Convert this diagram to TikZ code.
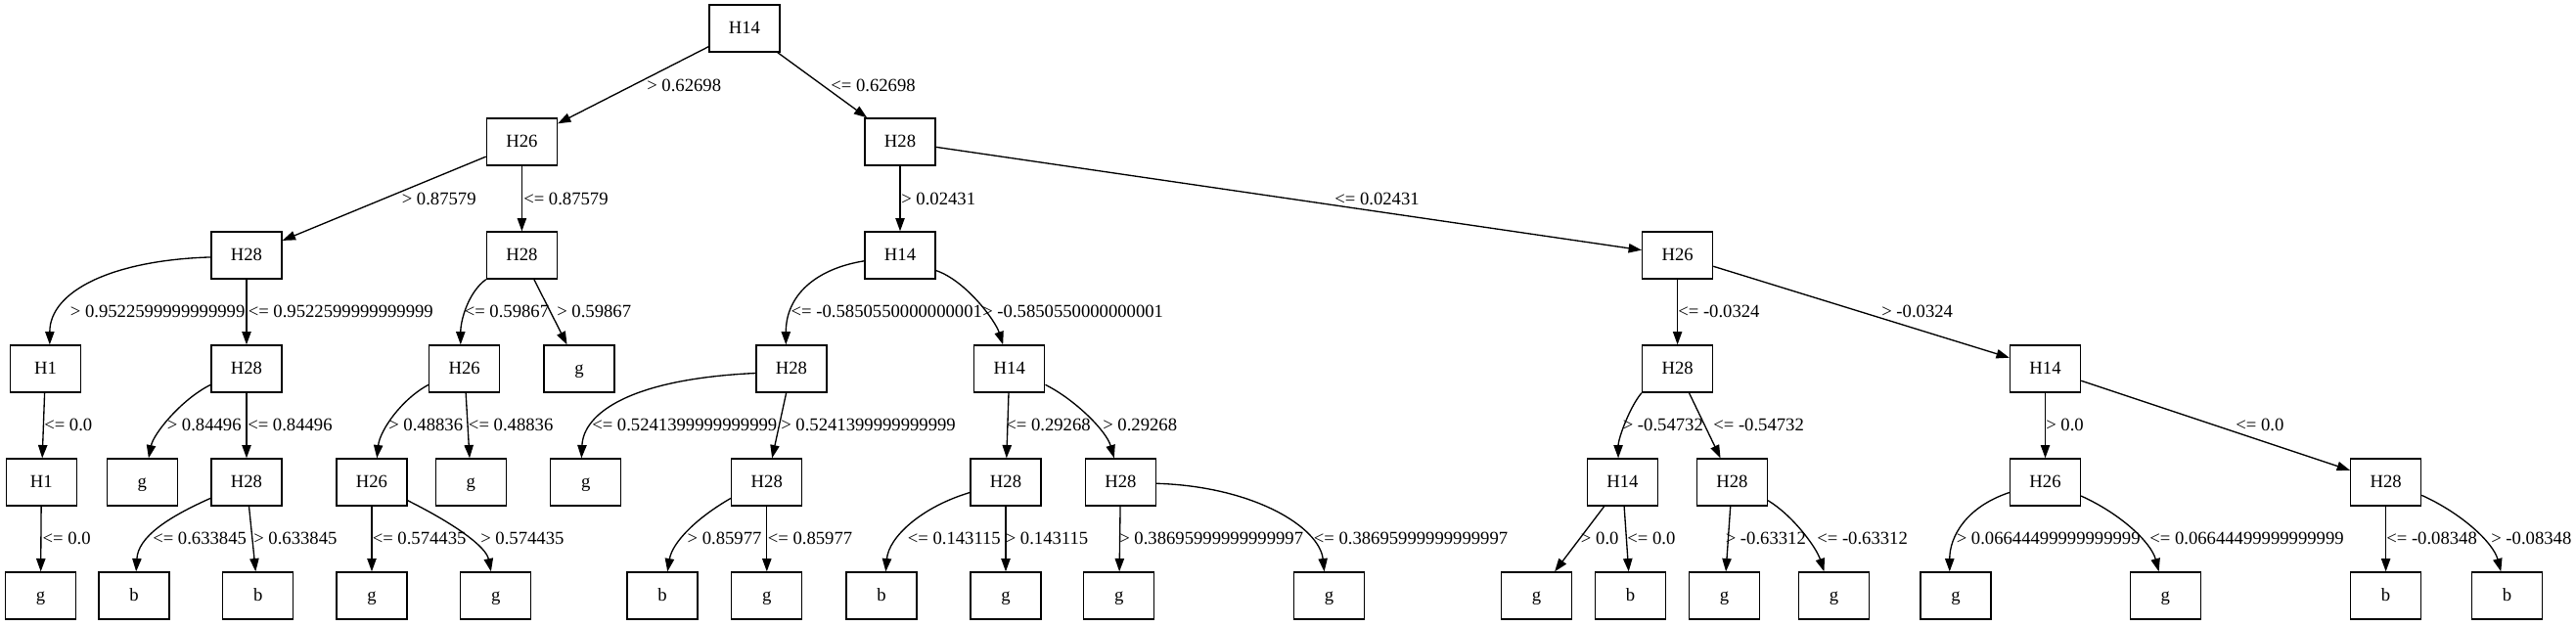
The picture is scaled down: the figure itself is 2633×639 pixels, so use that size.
\documentclass[tikz,border=0pt]{standalone}
\usepackage{fontspec}
\setmainfont{Liberation Serif}
\usetikzlibrary{arrows.meta}
\begin{document}
\begin{tikzpicture}[x=0.75pt,y=-0.75pt,
  tnode/.style={draw, line width=1pt, minimum width=54pt, minimum height=36pt, inner sep=0pt,
    text height=7.6pt, text depth=0pt, font=\fontsize{14}{16}\selectfont},
  edge/.style={line width=1pt, -{Triangle[length=10pt,width=7pt]}},
  lbl/.style={anchor=west, inner sep=0pt, font=\fontsize{14}{16}\selectfont}]
\useasboundingbox (0,0) rectangle (2633,639);
% level 0
\node[tnode] (n0) at (761,29) {H14};
% level 1
\node[tnode] (n1) at (533.4,145) {H26};
\node[tnode] (n2) at (920,145) {H28};
% level 2
\node[tnode] (n3) at (252,261) {H28};
\node[tnode] (n4) at (533.4,261) {H28};
\node[tnode] (n5) at (920,261) {H14};
\node[tnode] (n6) at (1714.6,261) {H26};
% level 3
\node[tnode] (n7) at (46.5,377) {H1};
\node[tnode] (n8) at (252,377) {H28};
\node[tnode] (n9) at (474.7,377) {H26};
\node[tnode] (n10) at (592,377) {g};
\node[tnode] (n11) at (809,377) {H28};
\node[tnode] (n12) at (1031.8,377) {H14};
\node[tnode] (n13) at (1714.6,377) {H28};
\node[tnode] (n14) at (2090.5,377) {H14};
% level 4
\node[tnode] (n15) at (42.3,493) {H1};
\node[tnode] (n16) at (145.3,493) {g};
\node[tnode] (n17) at (252,493) {H28};
\node[tnode] (n18) at (380,493) {H26};
\node[tnode] (n19) at (481.4,493) {g};
\node[tnode] (n20) at (598.7,493) {g};
\node[tnode] (n21) at (783.8,493) {H28};
\node[tnode] (n22) at (1028,493) {H28};
\node[tnode] (n23) at (1145.4,493) {H28};
\node[tnode] (n24) at (1658.4,493) {H14};
\node[tnode] (n25) at (1770.4,493) {H28};
\node[tnode] (n26) at (2090.5,493) {H26};
\node[tnode] (n27) at (2438.6,493) {H28};
% level 5
\node[tnode] (n28) at (41.5,609) {g};
\node[tnode] (n29) at (137,609) {b};
\node[tnode] (n30) at (263.8,609) {b};
\node[tnode] (n31) at (380,609) {g};
\node[tnode] (n32) at (506.7,609) {g};
\node[tnode] (n33) at (677,609) {b};
\node[tnode] (n34) at (783.8,609) {g};
\node[tnode] (n35) at (901,609) {b};
\node[tnode] (n36) at (1028,609) {g};
\node[tnode] (n37) at (1143.8,609) {g};
\node[tnode] (n38) at (1358.4,609) {g};
\node[tnode] (n39) at (1570.4,609) {g};
\node[tnode] (n40) at (1666.4,609) {b};
\node[tnode] (n41) at (1762.4,609) {g};
\node[tnode] (n42) at (1874.4,609) {g};
\node[tnode] (n43) at (1998.9,609) {g};
\node[tnode] (n44) at (2213.2,609) {g};
\node[tnode] (n45) at (2438.6,609) {b};
\node[tnode] (n46) at (2562.4,609) {b};

% straight edges
\draw[edge] (n0) -- (n1);
\draw[edge] (n0) -- (n2);
\draw[edge] (n1) -- (n3);
\draw[edge] (n1) -- (n4);
\draw[edge] (n2) -- (n5);
\draw[edge] (n2) -- (n6);
\draw[edge] (n3) -- (n8);
\draw[edge] (n4) -- (n10);
\draw[edge] (n6) -- (n13);
\draw[edge] (n6) -- (n14);
\draw[edge] (n7) -- (n15);
\draw[edge] (n8) -- (n17);
\draw[edge] (n9) -- (n19);
\draw[edge] (n11) -- (n21);
\draw[edge] (n12) -- (n22);
\draw[edge] (n13) -- (n25);
\draw[edge] (n14) -- (n26);
\draw[edge] (n14) -- (n27);
\draw[edge] (n15) -- (n28);
\draw[edge] (n17) -- (n30);
\draw[edge] (n18) -- (n31);
\draw[edge] (n21) -- (n34);
\draw[edge] (n22) -- (n36);
\draw[edge] (n23) -- (n37);
\draw[edge] (n24) -- (n39);
\draw[edge] (n24) -- (n40);
\draw[edge] (n25) -- (n41);
\draw[edge] (n27) -- (n45);

% curved edges
\draw[edge] (n3.183) .. controls +(-100,3) and +(0,-55) .. (n7.80);
\draw[edge] (n4.south west) .. controls +(-18,13) and +(0,-25) .. (n9.99);
\draw[edge] (n5.189) .. controls +(-50,8) and +(0,-50) .. (n11.103);
\draw[edge] (n5.-23) .. controls +(30,10) and +(-8,-25) .. (n12.105);
\draw[edge] (n8.204) .. controls +(-30,15) and +(5,-25) .. (n16.75);
\draw[edge] (n9.204) .. controls +(-28,15) and +(3,-28) .. (n18.78);
\draw[edge] (n11.187) .. controls +(-130,6) and +(2,-45) .. (n20.100);
\draw[edge] (n12.-24) .. controls +(30,15) and +(-8,-28) .. (n23.105);
\draw[edge] (n13.south west) .. controls +(-12,14) and +(0,-20) .. (n24.100);
\draw[edge] (n18.-27) .. controls +(50,25) and +(-5,-25) .. (n32.101);
\draw[edge] (n17.204) .. controls +(-45,20) and +(2,-35) .. (n29.85);
\draw[edge] (n21.204) .. controls +(-35,20) and +(5,-30) .. (n33.78);
\draw[edge] (n22.196) .. controls +(-50,15) and +(3,-35) .. (n35.80);
\draw[edge] (n23.-2) .. controls +(100,3) and +(-5,-45) .. (n38.101);
\draw[edge] (n25.-27) .. controls +(25,15) and +(-8,-25) .. (n42.112);
\draw[edge] (n26.196) .. controls +(-45,15) and +(0,-35) .. (n43.104);
\draw[edge] (n26.-21) .. controls +(40,18) and +(-8,-30) .. (n44.105);
\draw[edge] (n27.-20) .. controls +(40,18) and +(-8,-30) .. (n46.104);

% labels
\node[lbl] (l01) at (661,87) {> 0.62698};
\node[lbl] (l02) at (849,87) {<= 0.62698};
\node[lbl] (l13) at (410.5,203) {> 0.87579};
\node[lbl] (l14) at (535,203) {<= 0.87579};
\node[lbl] (l25) at (921,203) {> 0.02431};
\node[lbl] (l26) at (1364,203) {<= 0.02431};
\node[lbl] (l37) at (71.6,318) {> 0.9522599999999999};
\node[lbl] (l38) at (253.5,318) {<= 0.9522599999999999};
\node[lbl] (l49) at (474.5,318) {<= 0.59867};
\node[lbl] (l410) at (569,318) {> 0.59867};
\node[lbl] (l511) at (808.4,318) {<= -0.5850550000000001};
\node[lbl] (l512) at (1004,318) {> -0.5850550000000001};
\node[lbl] (l613) at (1715,318) {<= -0.0324};
\node[lbl] (l614) at (1923,318) {> -0.0324};
\node[lbl] (l715) at (45,434) {<= 0.0};
\node[lbl] (l816) at (170.5,434) {> 0.84496};
\node[lbl] (l817) at (253,434) {<= 0.84496};
\node[lbl] (l918) at (397,434) {> 0.48836};
\node[lbl] (l919) at (478.7,434) {<= 0.48836};
\node[lbl] (l1120) at (605,434) {<= 0.5241399999999999};
\node[lbl] (l1121) at (798,434) {> 0.5241399999999999};
\node[lbl] (l1222) at (1028,434) {<= 0.29268};
\node[lbl] (l1223) at (1127,434) {> 0.29268};
\node[lbl] (l1324) at (1658.5,434) {> -0.54732};
\node[lbl] (l1325) at (1751,434) {<= -0.54732};
\node[lbl] (l1426) at (2091,434) {> 0.0};
\node[lbl] (l1427) at (2285,434) {<= 0.0};
\node[lbl] (l1528) at (43.4,550) {<= 0.0};
\node[lbl] (l1729) at (156,550) {<= 0.633845};
\node[lbl] (l1730) at (259,550) {> 0.633845};
\node[lbl] (l1831) at (380.5,550) {<= 0.574435};
\node[lbl] (l1832) at (491,550) {> 0.574435};
\node[lbl] (l2133) at (702.3,550) {> 0.85977};
\node[lbl] (l2134) at (784.5,550) {<= 0.85977};
\node[lbl] (l2235) at (927.5,550) {<= 0.143115};
\node[lbl] (l2236) at (1027.5,550) {> 0.143115};
\node[lbl] (l2337) at (1144,550) {> 0.38695999999999997};
\node[lbl] (l2338) at (1342.5,550) {<= 0.38695999999999997};
\node[lbl] (l2439) at (1615.7,550) {> 0.0};
\node[lbl] (l2440) at (1663,550) {<= 0.0};
\node[lbl] (l2541) at (1763.5,550) {> -0.63312};
\node[lbl] (l2542) at (1857,550) {<= -0.63312};
\node[lbl] (l2643) at (1999.5,550) {> 0.06644499999999999};
\node[lbl] (l2644) at (2197,550) {<= 0.06644499999999999};
\node[lbl] (l2745) at (2439,550) {<= -0.08348};
\node[lbl] (l2746) at (2546,550) {> -0.08348};
\end{tikzpicture}
\end{document}
